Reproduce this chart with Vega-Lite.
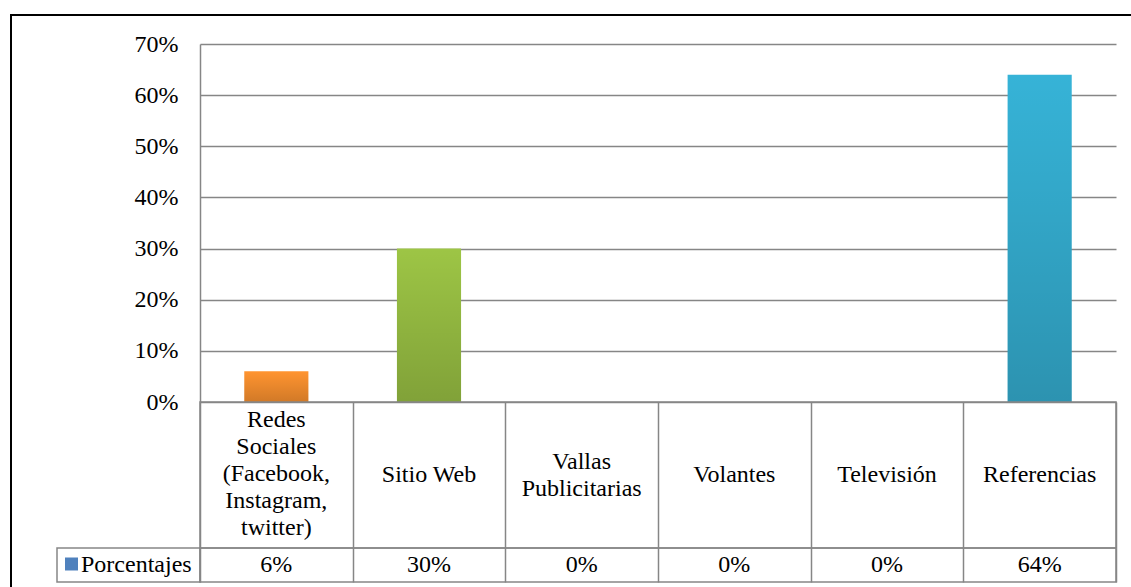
{
  "$schema": "https://vega.github.io/schema/vega-lite/v6.json",
  "background": "white",
  "padding": {"left": 10, "top": 14, "right": 0, "bottom": 0},
  "config": {
    "view": {"stroke": null},
    "font": "Liberation Serif",
    "text": {"font": "Liberation Serif", "fontSize": 24, "color": "#000000"}
  },
  "datasets": {
    "medios": [
      {"medio": "Redes\nSociales\n(Facebook,\nInstagram,\ntwitter)", "porcentaje": 0.06},
      {"medio": "Sitio Web", "porcentaje": 0.30},
      {"medio": "Vallas\nPublicitarias", "porcentaje": 0.0},
      {"medio": "Volantes", "porcentaje": 0.0},
      {"medio": "Televisión", "porcentaje": 0.0},
      {"medio": "Referencias", "porcentaje": 0.64}
    ],
    "serie": [{"nombre": "Porcentajes"}]
  },
  "bounds": "flush",
  "spacing": 0,
  "vconcat": [
    {
      "width": 1120,
      "height": 29,
      "data": {"values": []},
      "mark": "point",
      "view": {"stroke": "#000000", "strokeWidth": 2, "strokeDash": [1120, 1149, 29]}
    },
    {
      "bounds": "flush",
      "spacing": 0,
      "hconcat": [
        {
          "width": 46,
          "height": 543,
          "data": {"values": []},
          "mark": "point",
          "view": {"stroke": "#000000", "strokeWidth": 2, "strokeDash": [0, 635, 543]}
        },
        {
          "columns": 2,
          "spacing": 0,
          "align": "each",
          "bounds": "flush",
          "concat": [
            {"width": 143, "height": 358, "data": {"values": []}, "mark": "point"},
            {
              "width": 916,
              "height": 358,
              "data": {"name": "medios"},
              "encoding": {
                "x": {
                  "field": "medio",
                  "type": "nominal",
                  "sort": null,
                  "scale": {"paddingInner": 0, "paddingOuter": 0},
                  "axis": null
                },
                "y": {
                  "field": "porcentaje",
                  "type": "quantitative",
                  "scale": {"domain": [0, 0.7]},
                  "axis": {
                    "title": null,
                    "values": [0, 0.1, 0.2, 0.3, 0.4, 0.5, 0.6, 0.7],
                    "format": ".0%",
                    "domain": true,
                    "domainColor": "#868686",
                    "domainWidth": 1.5,
                    "ticks": false,
                    "labelPadding": 22,
                    "labelFont": "Liberation Serif",
                    "labelFontSize": 24,
                    "labelColor": "#000000",
                    "grid": true,
                    "gridColor": "#868686",
                    "gridWidth": 1.5
                  }
                }
              },
              "layer": [
                {
                  "mark": {"type": "bar", "width": {"band": 0.42}},
                  "encoding": {
                    "color": {
                      "field": "medio",
                      "type": "nominal",
                      "sort": null,
                      "scale": {
                        "range": ["#FF9430", "#9DC545", "#4F81BD", "#C0504D", "#8064A2", "#36B3D7"]
                      },
                      "legend": null
                    }
                  }
                },
                {
                  "mark": {
                    "type": "bar",
                    "width": {"band": 0.42},
                    "fill": {
                      "gradient": "linear",
                      "x1": 0, "y1": 0, "x2": 0, "y2": 1,
                      "stops": [
                        {"offset": 0, "color": "rgba(0,0,0,0)"},
                        {"offset": 1, "color": "rgba(0,0,0,0.18)"}
                      ]
                    }
                  }
                }
              ]
            },
            {"width": 143, "height": 146, "data": {"values": []}, "mark": "point"},
            {
              "width": 916,
              "height": 146,
              "data": {"name": "medios"},
              "view": {"stroke": "#868686", "strokeWidth": 1.5},
              "encoding": {
                "x": {
                  "field": "medio",
                  "type": "nominal",
                  "sort": null,
                  "scale": {
                    "domain": [
                      "Redes\nSociales\n(Facebook,\nInstagram,\ntwitter)",
                      "Sitio Web",
                      "Vallas\nPublicitarias",
                      "Volantes",
                      "Televisión",
                      "Referencias"
                    ],
                    "paddingInner": 0,
                    "paddingOuter": 0
                  },
                  "axis": {
                    "title": null,
                    "labels": false,
                    "ticks": false,
                    "domain": false,
                    "grid": true,
                    "tickBand": "extent",
                    "gridColor": "#868686",
                    "gridWidth": 1.5
                  }
                },
                "text": {"field": "medio", "type": "nominal"}
              },
              "layer": [
                {
                  "transform": [{"filter": "length(split(datum.medio, '\\n')) == 1"}],
                  "mark": {"type": "text", "lineBreak": "\n", "lineHeight": 27, "baseline": "middle", "align": "center"}
                },
                {
                  "transform": [{"filter": "length(split(datum.medio, '\\n')) == 2"}],
                  "mark": {"type": "text", "lineBreak": "\n", "lineHeight": 27, "baseline": "middle", "align": "center", "dy": -13.5}
                },
                {
                  "transform": [{"filter": "length(split(datum.medio, '\\n')) == 5"}],
                  "mark": {"type": "text", "lineBreak": "\n", "lineHeight": 27, "baseline": "middle", "align": "center", "dy": -55}
                }
              ]
            },
            {
              "width": 143,
              "height": 34,
              "data": {"name": "serie"},
              "view": {"stroke": "#868686", "strokeWidth": 1.5},
              "layer": [
                {
                  "mark": {"type": "point", "shape": "square", "filled": true, "size": 169, "color": "#4F81BD", "opacity": 1, "xOffset": -57, "yOffset": -1}
                },
                {
                  "mark": {"type": "text", "align": "left", "baseline": "middle", "dx": -47.5},
                  "encoding": {"text": {"field": "nombre", "type": "nominal"}}
                }
              ]
            },
            {
              "width": 916,
              "height": 34,
              "data": {"name": "medios"},
              "view": {"stroke": "#868686", "strokeWidth": 1.5},
              "mark": {"type": "text", "baseline": "middle", "align": "center"},
              "encoding": {
                "x": {
                  "field": "medio",
                  "type": "nominal",
                  "sort": null,
                  "scale": {"paddingInner": 0, "paddingOuter": 0},
                  "axis": {
                    "title": null,
                    "labels": false,
                    "ticks": false,
                    "domain": false,
                    "grid": true,
                    "tickBand": "extent",
                    "gridColor": "#868686",
                    "gridWidth": 1.5
                  }
                },
                "text": {"field": "porcentaje", "type": "quantitative", "format": ".0%"}
              }
            }
          ]
        }
      ]
    }
  ]
}
